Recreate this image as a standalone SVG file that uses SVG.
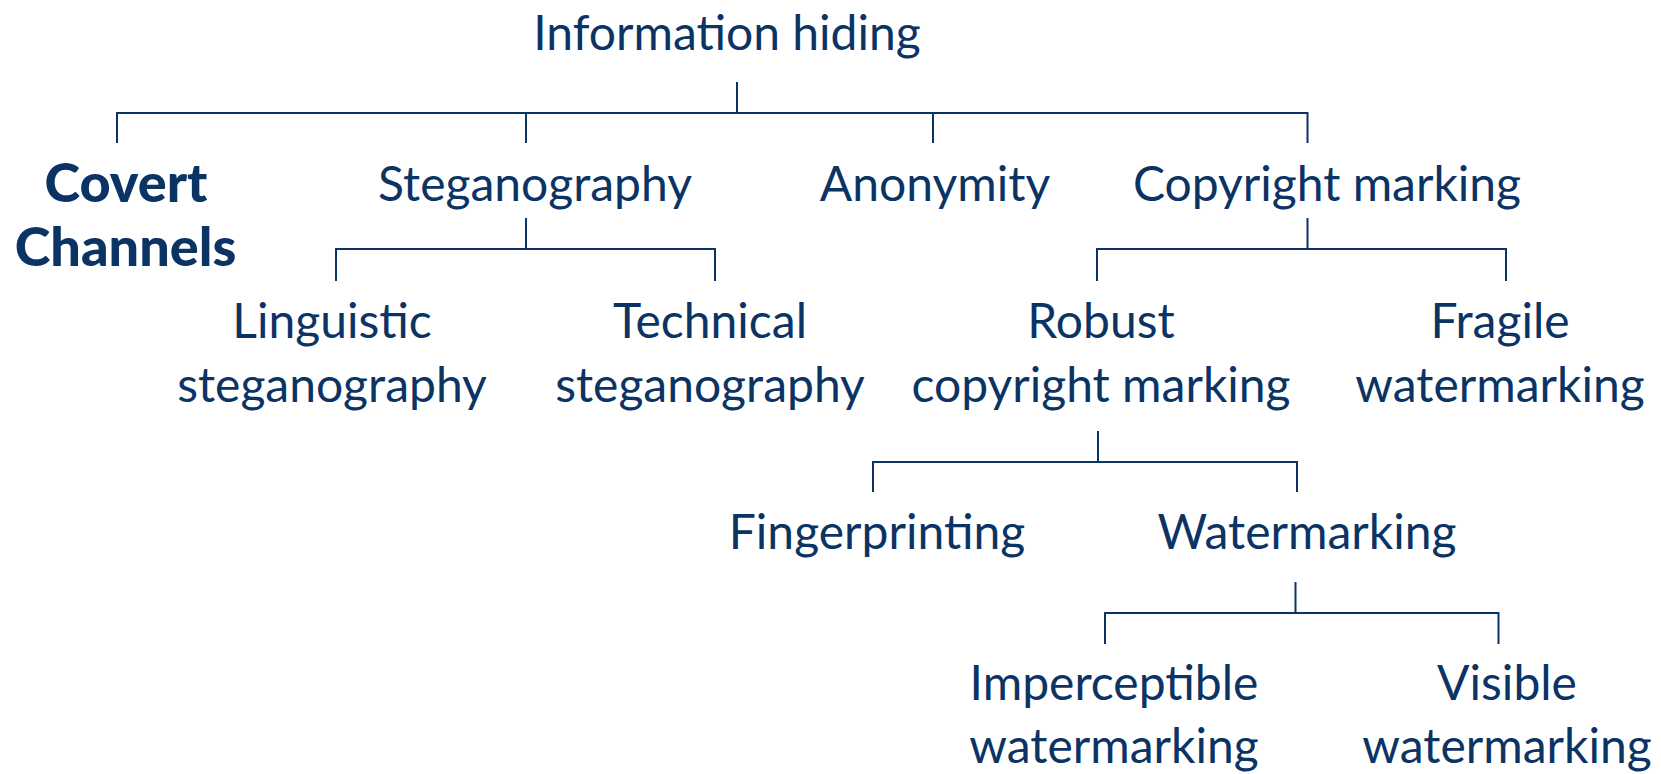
<svg xmlns="http://www.w3.org/2000/svg" width="1661" height="774" viewBox="0 0 1661 774">
<style>
.t{font-family:Lato,"Open Sans","Liberation Sans",sans-serif;font-size:48px;fill:#0b3465;text-anchor:middle}
.b{font-weight:900;font-size:54px}
.c{fill:none;stroke:#0b3465;stroke-width:2}
</style>
<rect width="1661" height="774" fill="#fff"/>
<g id="connectors" class="c">
<path d="M737 82V113M117 143V113H1307.5V143M526 113V143M933 113V143"/>
<path d="M526 218V249M336 281V249H715V281"/>
<path d="M1307.5 218V249M1097 281V249H1506V281"/>
<path d="M1098 431V462M873 492V462H1297V492"/>
<path d="M1295.5 582V613M1105 644V613H1498.5V644"/>
</g>
<g id="information-hiding"><text class="t" x="727" y="50">Information hiding</text></g>
<g id="covert-channels"><text class="t b" x="126" y="202">Covert</text><text class="t b" x="125.5" y="266">Channels</text></g>
<g id="steganography"><text class="t" x="535" y="201">Steganography</text></g>
<g id="anonymity"><text class="t" x="935" y="201">Anonymity</text></g>
<g id="copyright-marking"><text class="t" x="1327" y="201">Copyright marking</text></g>
<g id="linguistic"><text class="t" x="332" y="338">Linguistic</text><text class="t" x="332" y="402">steganography</text></g>
<g id="technical"><text class="t" x="710" y="338">Technical</text><text class="t" x="710" y="402">steganography</text></g>
<g id="robust"><text class="t" x="1101" y="338">Robust</text><text class="t" x="1101" y="402">copyright marking</text></g>
<g id="fragile"><text class="t" x="1500" y="338">Fragile</text><text class="t" x="1500" y="402">watermarking</text></g>
<g id="fingerprinting"><text class="t" x="877" y="549">Fingerprinting</text></g>
<g id="watermarking"><text class="t" x="1307" y="549">Watermarking</text></g>
<g id="imperceptible"><text class="t" x="1114" y="700">Imperceptible</text><text class="t" x="1114" y="763">watermarking</text></g>
<g id="visible"><text class="t" x="1507" y="700">Visible</text><text class="t" x="1507" y="763">watermarking</text></g>
</svg>
